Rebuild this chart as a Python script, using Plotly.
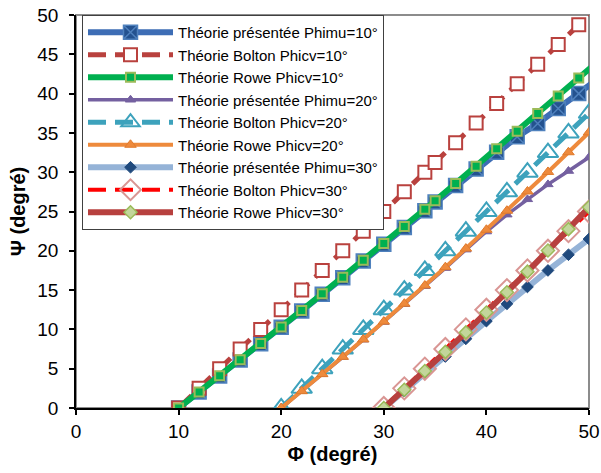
import plotly.graph_objects as go

# ---- data ----
phi_10 = [10, 12, 14, 16, 18, 20, 22, 24, 26, 28, 30, 32, 34, 35, 37, 39, 41, 43, 45, 47, 49, 51]
pres_10 = [0, 2.03, 4.07, 6.12, 8.18, 10.26, 12.35, 14.46, 16.57, 18.69, 20.82, 22.96, 25.11, 26.2,
           28.3, 30.4, 32.55, 34.5, 36.2, 38.1, 40.0, 42.0]
bolton_10 = [0, 2.5, 5, 7.5, 10, 12.5, 15, 17.5, 20, 22.5, 25, 27.5, 30, 31.25, 33.75, 36.25,
             38.75, 41.25, 43.75, 46.25, 48.75, 51.25]
rowe_10 = [0, 2.04, 4.09, 6.15, 8.22, 10.31, 12.41, 14.53, 16.65, 18.79, 20.94, 23.10, 25.28, 26.37,
           28.56, 30.77, 32.99, 35.22, 37.46, 39.70, 41.97, 44.23]

phi_20 = [20, 22, 24, 26, 28, 30, 32, 34, 36, 38, 40, 42, 44, 46, 48, 50]
pres_20 = [0, 2.13, 4.29, 6.48, 8.69, 10.94, 13.2, 15.5, 17.8, 20.15, 22.45, 24.6, 26.55, 28.45, 30.15, 31.9]
bolton_20 = [0, 2.5, 5, 7.5, 10, 12.5, 15, 17.5, 20, 22.5, 25, 27.5, 30, 32.5, 35, 37.5]
rowe_20 = [0, 2.14, 4.31, 6.51, 8.73, 10.99, 13.27, 15.58, 17.92, 20.28, 22.68, 25.10, 27.55, 30.03, 32.54, 35.07]

phi_30 = [30, 32, 34, 36, 38, 40, 42, 44, 46, 48, 50]
pres_30 = [0, 2.15, 4.35, 6.55, 8.8, 11.05, 13.25, 15.4, 17.5, 19.5, 21.5]
bolton_30 = [0, 2.5, 5, 7.5, 10, 12.5, 15, 17.5, 20, 22.5, 25]
rowe_30 = [0, 2.33, 4.71, 7.14, 9.62, 12.15, 14.72, 17.35, 20.03, 22.76, 25.54]

names = ["Théorie présentée Phimu=10°", "Théorie Bolton Phicv=10°", "Théorie Rowe Phicv=10°",
         "Théorie présentée Phimu=20°", "Théorie Bolton Phicv=20°", "Théorie Rowe Phicv=20°",
         "Théorie présentée Phimu=30°", "Théorie Bolton Phicv=30°", "Théorie Rowe Phicv=30°"]

x_ticks = [0, 10, 20, 30, 40, 50]
y_ticks = [0, 5, 10, 15, 20, 25, 30, 35, 40, 45, 50]

DASH = "18px,9px"
FONT = "Arial, Liberation Sans"

fig = go.Figure()

def add(x, y, name, lc, lw, dash, sym, ms, mfill, mline, mlw):
    fig.add_trace(go.Scatter(
        x=x, y=y, name=name, mode="lines+markers",
        line=dict(color=lc, width=lw, dash=dash),
        marker=dict(symbol=sym, size=ms, color=mfill, line=dict(color=mline, width=mlw)),
        cliponaxis=True,
    ))

add(phi_10, pres_10, names[0], "#3D6DB5", 6, "solid", "square-x", 14, "#24528F", "#4F81BD", 1.5)
add(phi_10, bolton_10, names[1], "#B9413E", 5, DASH, "square", 13, "white", "#B9413E", 2)
add(phi_10, rowe_10, names[2], "#00B050", 6, "solid", "square", 9, "#00B050", "#9BBB59", 2)
add(phi_20, pres_20, names[3], "#7460A0", 3.5, "solid", "triangle-up", 9, "#7460A0", "#7460A0", 1)
add(phi_20, bolton_20, names[4], "#3DA2BC", 5, DASH, "triangle-up-open", 18, "#3DA2BC", "#3DA2BC", 2)
add(phi_20, rowe_20, names[5], "#EE8A3C", 4, "solid", "triangle-up", 10, "#EE8A3C", "#E07A2C", 1)
add(phi_30, pres_30, names[6], "#95B3D7", 6, "solid", "diamond", 9, "#1F497D", "#1F497D", 1)
add(phi_30, bolton_30, names[7], "#FF0000", 4, DASH, "diamond-open", 17, "#D99694", "#D99694", 2)
add(phi_30, rowe_30, names[8], "#B7403E", 6, "solid", "diamond", 10, "#C3D69B", "#9BBB59", 1.5)

axis_common = dict(
    showgrid=False, zeroline=False, showline=True, linecolor="black", linewidth=1.5,
    ticks="outside", ticklen=5, tickcolor="black", tickwidth=1.5,
    tickfont=dict(family=FONT, size=19, color="black"),
)

fig.update_layout(
    width=601, height=473,
    margin=dict(l=76, r=12, t=15, b=65),
    paper_bgcolor="white", plot_bgcolor="white",
    xaxis=dict(range=[0, 50], tickvals=x_ticks, automargin="bottom",
               title=dict(text="<b>Φ (degré)</b>", font=dict(family=FONT, size=20, color="black"), standoff=6),
               **axis_common),
    yaxis=dict(range=[0, 50], tickvals=y_ticks, automargin="left", ticklabelstandoff=7,
               title=dict(text="<b>Ψ (degré)</b>", font=dict(family=FONT, size=20, color="black"), standoff=6),
               **axis_common),
    legend=dict(x=0.0117, y=1.0, xanchor="left", yanchor="top",
                bgcolor="white", bordercolor="#404040", borderwidth=1,
                font=dict(family=FONT, size=15, color="black"),
                itemwidth=85),
    showlegend=True,
    shapes=[dict(type="rect", xref="paper", yref="paper", x0=0, y0=0, x1=1, y1=1,
                 line=dict(color="#8C8C8C", width=2), layer="below")],
)

fig.write_html("out.html")
